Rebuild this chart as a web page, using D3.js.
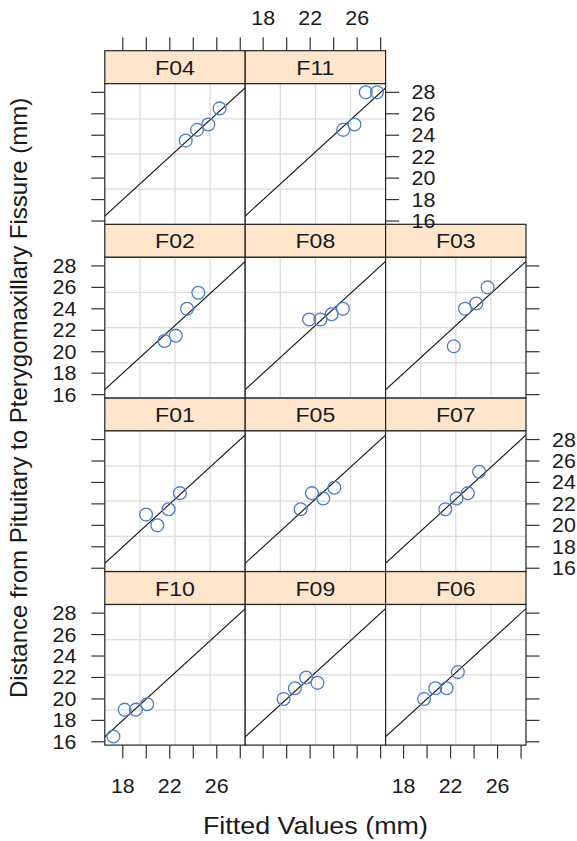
<!DOCTYPE html>
<html>
<head>
<meta charset="utf-8">
<script src="https://cdn.jsdelivr.net/npm/d3@7"></script>
<style>
  html, body { margin: 0; padding: 0; background: #ffffff; }
  svg { display: block; }
  text { font-family: "Liberation Sans", Arial, Helvetica, sans-serif; fill: #1a1a1a; }
</style>
</head>
<body>
<svg id="chart" width="577" height="841"></svg>
<script>
// ---- data (panel order as drawn by lattice: bottom-left first, row by row) ----
const subjects = ["F10", "F09", "F06", "F01", "F05", "F07", "F02", "F08", "F03", "F04", "F11"];
// observed distance (mm) at ages 8, 10, 12, 14
const observed = [
  [16.5, 19.0, 19.0, 19.5],
  [20.0, 21.0, 22.0, 21.5],
  [20.0, 21.0, 21.0, 22.5],
  [21.0, 20.0, 21.5, 23.0],
  [21.5, 23.0, 22.5, 23.5],
  [21.5, 22.5, 23.0, 25.0],
  [21.0, 21.5, 24.0, 25.5],
  [23.0, 23.0, 23.5, 24.0],
  [20.5, 24.0, 24.5, 26.0],
  [23.5, 24.5, 25.0, 26.5],
  [24.5, 25.0, 28.0, 28.0]
];
// fitted values (mm)
const fitted = [
  [17.20, 18.16, 19.12, 20.08],
  [19.74, 20.70, 21.66, 22.62],
  [19.74, 20.70, 21.66, 22.62],
  [19.98, 20.94, 21.90, 22.86],
  [21.19, 22.15, 23.11, 24.06],
  [21.55, 22.51, 23.47, 24.43],
  [21.55, 22.51, 23.47, 24.43],
  [21.91, 22.87, 23.83, 24.79],
  [22.27, 23.23, 24.19, 25.15],
  [23.36, 24.32, 25.28, 26.24],
  [24.81, 25.77, 26.73, 27.69]
];
const xDomain = [16.47, 28.42];
const yDomain = [15.695, 28.805];
const xTicks = [18, 20, 22, 24, 26, 28];
const xTickLabels = ["18", "", "22", "", "26", ""];
const yTicks = [16, 18, 20, 22, 24, 26, 28];
const yTickLabels = ["16", "18", "20", "22", "24", "26", "28"];
const xTitle = "Fitted Values (mm)";
const yTitle = "Distance from Pituitary to Pterygomaxillary Fissure (mm)";

// ---- layout ----
const nCols = 3, nRows = 4;
const leftX = 104.8, topY = 50.7;
const pw = 140.4, ph = 140.6, stripH = 33, rowH = stripH + ph;
const tickLen = 13.5;
const sx = 1.07; // horizontal stretch of glyphs in reference

const svg = d3.select("#chart");
const x = d3.scaleLinear().domain(xDomain).range([0, pw]);
const y = d3.scaleLinear().domain(yDomain).range([ph, 0]);

const defs = svg.append("defs");
defs.append("clipPath").attr("id", "pclip")
  .append("rect").attr("x", 0).attr("y", 0).attr("width", pw).attr("height", ph);

function panelPos(i) {
  const col = i % nCols;
  const rowTop = (nRows - 1) - Math.floor(i / nCols);
  return { col, row: rowTop, x0: leftX + col * pw, y0: topY + rowTop * rowH };
}

function sText(g, tx, ty, str, size, anchor, scaleX) {
  return g.append("text")
    .attr("transform", `translate(${tx},${ty}) scale(${scaleX},1)`)
    .attr("text-anchor", anchor)
    .style("font-size", size + "px")
    .text(str);
}

subjects.forEach((s, i) => {
  const p = panelPos(i);
  // strip
  const sg = svg.append("g").attr("transform", `translate(${p.x0},${p.y0})`);
  sg.append("rect").attr("width", pw).attr("height", stripH)
    .attr("fill", "#ffe5cc").attr("stroke", "#222").attr("stroke-width", 1.2);
  sText(sg, pw / 2, stripH / 2 + 7.5, s, 21, "middle", 1.1);

  // panel
  const g = svg.append("g").attr("transform", `translate(${p.x0},${p.y0 + stripH})`);
  g.append("rect").attr("width", pw).attr("height", ph).attr("fill", "#ffffff");
  const grid = g.append("g").attr("stroke", "#dcdcdc").attr("stroke-width", 1.3);
  [1, 2, 3].forEach(k => {
    const gx = x(xDomain[0] + k * (xDomain[1] - xDomain[0]) / 4);
    const gy = y(yDomain[0] + k * (yDomain[1] - yDomain[0]) / 4);
    grid.append("line").attr("x1", gx).attr("x2", gx).attr("y1", 0).attr("y2", ph);
    grid.append("line").attr("y1", gy).attr("y2", gy).attr("x1", 0).attr("x2", pw);
  });
  const lo = Math.min(xDomain[0], yDomain[0]), hi = Math.max(xDomain[1], yDomain[1]);
  g.append("line").attr("clip-path", "url(#pclip)")
    .attr("x1", x(lo)).attr("y1", y(lo)).attr("x2", x(hi)).attr("y2", y(hi))
    .attr("stroke", "#111").attr("stroke-width", 1.1);
  g.selectAll("circle.pt").data(fitted[i].map((f, j) => [f, observed[i][j]]))
    .enter().append("circle").attr("class", "pt")
    .attr("cx", d => x(d[0])).attr("cy", d => y(d[1])).attr("r", 6.4)
    .attr("fill", "none").attr("stroke", "#4d7cc9").attr("stroke-width", 1.3);
  g.append("rect").attr("width", pw).attr("height", ph)
    .attr("fill", "none").attr("stroke", "#222").attr("stroke-width", 1.2);

  const tickG = svg.append("g").attr("stroke", "#333").attr("stroke-width", 1.2);
  const py0 = p.y0 + stripH;
  // left axis (column 0)
  if (p.col === 0) {
    yTicks.forEach((t, k) => {
      tickG.append("line").attr("x1", p.x0 - tickLen).attr("x2", p.x0)
        .attr("y1", py0 + y(t)).attr("y2", py0 + y(t));
      if (p.row % 2 === 1) sText(svg, p.x0 - 28.5, py0 + y(t) + 7, yTickLabels[k], 20, "end", sx);
    });
  }
  // right axis (last panel of its row)
  const lastInRow = (p.col === nCols - 1) || (i === subjects.length - 1);
  if (lastInRow) {
    const rx = p.x0 + pw;
    yTicks.forEach((t, k) => {
      tickG.append("line").attr("x1", rx).attr("x2", rx + tickLen)
        .attr("y1", py0 + y(t)).attr("y2", py0 + y(t));
      if (p.row % 2 === 0) sText(svg, rx + 26, py0 + y(t) + 7, yTickLabels[k], 20, "start", sx);
    });
  }
  // top axis (top row)
  if (p.row === 0) {
    xTicks.forEach((t, k) => {
      tickG.append("line").attr("x1", p.x0 + x(t)).attr("x2", p.x0 + x(t))
        .attr("y1", p.y0 - tickLen).attr("y2", p.y0);
      if (p.col % 2 === 1 && xTickLabels[k]) sText(svg, p.x0 + x(t), p.y0 - 25.7, xTickLabels[k], 20, "middle", sx);
    });
  }
  // bottom axis (bottom row)
  if (p.row === nRows - 1) {
    const by = py0 + ph;
    xTicks.forEach((t, k) => {
      tickG.append("line").attr("x1", p.x0 + x(t)).attr("x2", p.x0 + x(t))
        .attr("y1", by).attr("y2", by + tickLen);
      if (p.col % 2 === 0 && xTickLabels[k]) sText(svg, p.x0 + x(t), by + 48, xTickLabels[k], 20, "middle", sx);
    });
  }
});

// axis titles
sText(svg, leftX + nCols * pw / 2, 834, xTitle, 24, "middle", 1.12);
svg.append("text")
  .attr("transform", `translate(26.5,${topY + nRows * rowH / 2}) rotate(-90)`)
  .attr("text-anchor", "middle")
  .style("font-size", "24px")
  .text(yTitle);
</script>
</body>
</html>
